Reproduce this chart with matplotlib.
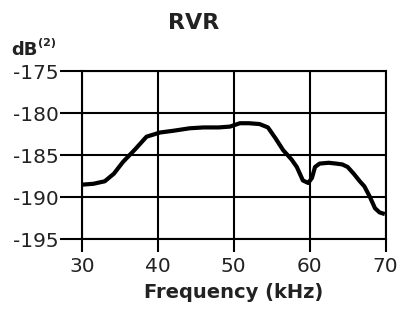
import matplotlib
matplotlib.use("Agg")
import matplotlib.pyplot as plt

plt.rcParams["font.family"] = ["DejaVu Sans"]

# RVR curve
freq_khz = [30.0, 31.5, 33.0, 34.2, 35.4, 37.0, 38.5, 40.3, 42.0, 44.2, 46.0,
            48.0, 49.5, 50.8, 52.0, 53.4, 54.5, 55.5, 56.5, 57.6, 58.3, 59.1,
            59.8, 60.3, 60.7, 61.3, 62.5, 63.5, 64.3, 65.0, 65.8, 66.6, 67.2,
            67.9, 68.6, 69.2, 69.9]
rvr_db = [-188.5, -188.4, -188.1, -187.2, -185.8, -184.3, -182.8, -182.3,
          -182.1, -181.8, -181.7, -181.7, -181.6, -181.2, -181.2, -181.3,
          -181.7, -183.0, -184.4, -185.5, -186.4, -188.0, -188.3, -187.7,
          -186.4, -186.0, -185.9, -186.0, -186.1, -186.4, -187.2, -188.1,
          -188.7, -189.9, -191.3, -191.8, -192.0]

x_ticks = [30, 40, 50, 60, 70]
y_ticks = [-175, -180, -185, -190, -195]

fig = plt.figure(figsize=(4.0, 3.09), dpi=100)
ax = fig.add_axes([0.205, 0.2255, 0.759, 0.5445])

ax.plot(freq_khz, rvr_db, color="black", lw=3.0, solid_capstyle="butt", zorder=3)

ax.set_xlim(30, 70)
ax.set_ylim(-195, -175)
ax.set_xticks(x_ticks)
ax.set_yticks(y_ticks)
ax.set_yticklabels([str(v) for v in y_ticks])
ax.grid(True, color="black", lw=1.5)
for s in ax.spines.values():
    s.set_linewidth(1.5)
ax.tick_params(axis="y", length=16, width=1.5, pad=1, labelsize=14.5,
               labelcolor="#222222")
ax.tick_params(axis="x", length=9, width=1.5, pad=4, labelsize=14.5,
               labelcolor="#222222")

ax.set_xlabel("Frequency (kHz)", fontsize=14, fontweight="bold", labelpad=5,
              color="#222222")

fig.text(0.484, 0.925, "RVR", ha="center", va="center", fontsize=16,
         fontweight="bold", color="#222222")
fig.text(0.027, 0.838, "dB", ha="left", va="center", fontsize=13,
         fontweight="bold", color="#222222")
fig.text(0.096, 0.86, "(2)", ha="left", va="center", fontsize=8,
         fontweight="bold", color="#222222")

fig.savefig("out.png", dpi=100)
